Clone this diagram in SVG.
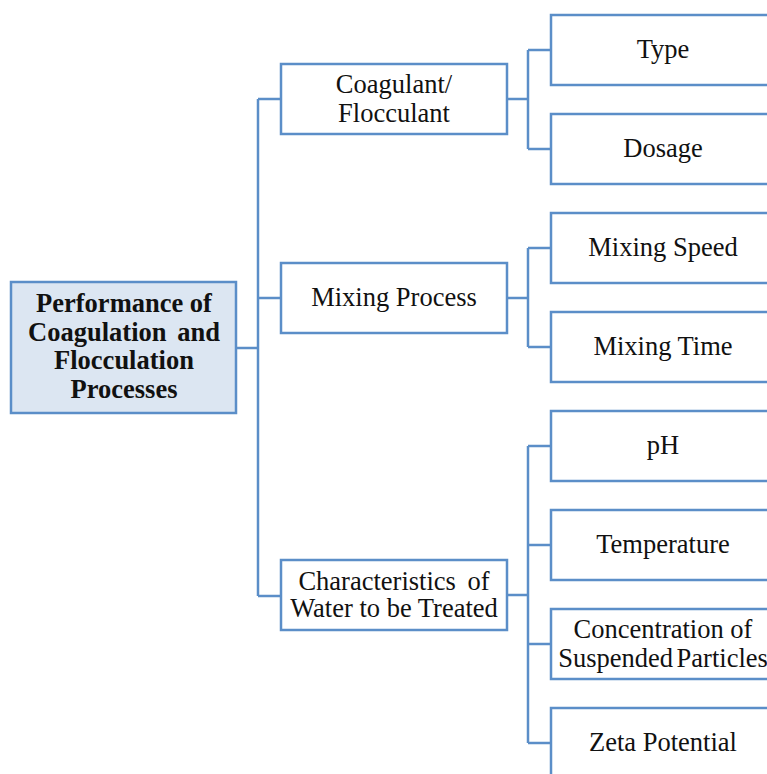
<svg xmlns="http://www.w3.org/2000/svg" width="767" height="774" viewBox="0 0 767 774">
<style>
.box{fill:#ffffff;stroke:#5b8ec8;stroke-width:2.5}
.root{fill:#dce6f2;stroke:#5b8ec8;stroke-width:2.5}
.t{font-family:"Liberation Serif","Times New Roman",serif;font-size:26.5px;fill:#111;text-anchor:middle}
.b{font-weight:bold}
.c{fill:none;stroke:#5b8ec8;stroke-width:2.5}
</style>
<rect width="767" height="774" fill="#ffffff"/>
<g id="connectors">
<path class="c" d="M236 348H258M258 99V596M258 99H281M258 298H281M258 596H281"/>
<path class="c" d="M507 99H528M528 50V149M528 50H551M528 149H551"/>
<path class="c" d="M507 298H528M528 248V347M528 248H551M528 347H551"/>
<path class="c" d="M507 595H528M528 446V743M528 446H551M528 545H551M528 644H551M528 743H551"/>
</g>
<g id="root">
<rect class="root" x="11" y="282" width="225" height="131"/>
<text class="t b" x="124" y="312">Performance of</text>
<text class="t b" x="124" y="341" word-spacing="4">Coagulation and</text>
<text class="t b" x="124" y="369">Flocculation</text>
<text class="t b" x="124" y="398">Processes</text>
</g>
<g id="coagulant">
<rect class="box" x="281" y="64" width="226" height="70"/>
<text class="t" x="394" y="93">Coagulant/</text>
<text class="t" x="394" y="122">Flocculant</text>
</g>
<g id="mixing">
<rect class="box" x="281" y="263" width="226" height="70"/>
<text class="t" x="394" y="306">Mixing Process</text>
</g>
<g id="characteristics">
<rect class="box" x="281" y="560" width="226" height="70"/>
<text class="t" x="394" y="590" word-spacing="5">Characteristics of</text>
<text class="t" x="394" y="617">Water to be Treated</text>
</g>
<g id="type">
<rect class="box" x="551" y="15" width="226" height="70"/>
<text class="t" x="663" y="58">Type</text>
</g>
<g id="dosage">
<rect class="box" x="551" y="114" width="226" height="70"/>
<text class="t" x="663" y="157">Dosage</text>
</g>
<g id="mixing-speed">
<rect class="box" x="551" y="213" width="226" height="70"/>
<text class="t" x="663" y="256">Mixing Speed</text>
</g>
<g id="mixing-time">
<rect class="box" x="551" y="312" width="226" height="70"/>
<text class="t" x="663" y="355">Mixing Time</text>
</g>
<g id="ph">
<rect class="box" x="551" y="411" width="226" height="70"/>
<text class="t" x="663" y="454">pH</text>
</g>
<g id="temperature">
<rect class="box" x="551" y="510" width="226" height="70"/>
<text class="t" x="663" y="553">Temperature</text>
</g>
<g id="concentration">
<rect class="box" x="551" y="609" width="226" height="70"/>
<text class="t" x="663" y="638">Concentration of</text>
<text class="t" x="663" y="667" word-spacing="-3">Suspended Particles</text>
</g>
<g id="zeta">
<rect class="box" x="551" y="708" width="226" height="70"/>
<text class="t" x="663" y="751">Zeta Potential</text>
</g>
</svg>
